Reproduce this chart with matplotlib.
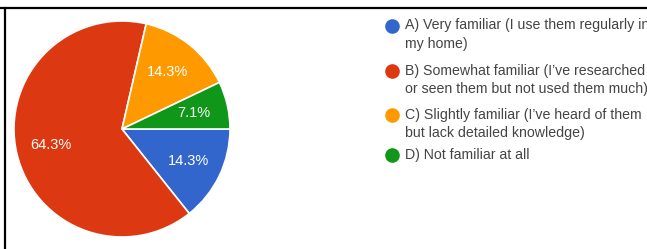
import matplotlib
matplotlib.use("Agg")
import matplotlib.pyplot as plt
from matplotlib.lines import Line2D

labels = [
    "A) Very familiar (I use them regularly in\nmy home)",
    "B) Somewhat familiar (I\u2019ve researched\nor seen them but not used them much)",
    "C) Slightly familiar (I\u2019ve heard of them\nbut lack detailed knowledge)",
    "D) Not familiar at all",
]
shares = [14.3, 64.3, 14.3, 7.1]
colors = ["#3366cc", "#dc3912", "#ff9900", "#109618"]

plt.rcParams["font.family"] = ["Liberation Sans", "DejaVu Sans"]

W, H = 647, 249
fig = plt.figure(figsize=(W / 100, H / 100), dpi=100)

# pie area (center ~ (122,129) px, radius ~108 px)
ax = fig.add_axes([14 / W, (H - 237) / H, 216 / W, 216 / H])
wedges, texts, autotexts = ax.pie(
    shares, colors=colors, startangle=0, counterclock=False,
    autopct="%.1f%%", pctdistance=0.68,
    wedgeprops=dict(edgecolor="white", linewidth=1.2),
    textprops=dict(color="white", fontsize=10.5),
)
ax.set_xlim(-1, 1)
ax.set_ylim(-1, 1)

# legend drawn by hand: dot + wrapped text
dot_y = [26, 71, 115, 155]
for lab, col, y in zip(labels, colors, dot_y):
    fig.add_artist(Line2D([392 / W], [1 - y / H], marker="o", markersize=9.5,
                          color=col, linestyle="none"))
    fig.text(405 / W, 1 - (y - 7.5) / H, lab, fontsize=10.2, color="#444444",
             va="top", ha="left", linespacing=1.45)

# frame lines at top and left
fig.add_artist(Line2D([0, 1], [1 - 8 / H, 1 - 8 / H], color="black", lw=1.6))
fig.add_artist(Line2D([5 / W, 5 / W], [0, 1 - 8 / H], color="black", lw=1.6))

fig.savefig("out.png", dpi=100)
